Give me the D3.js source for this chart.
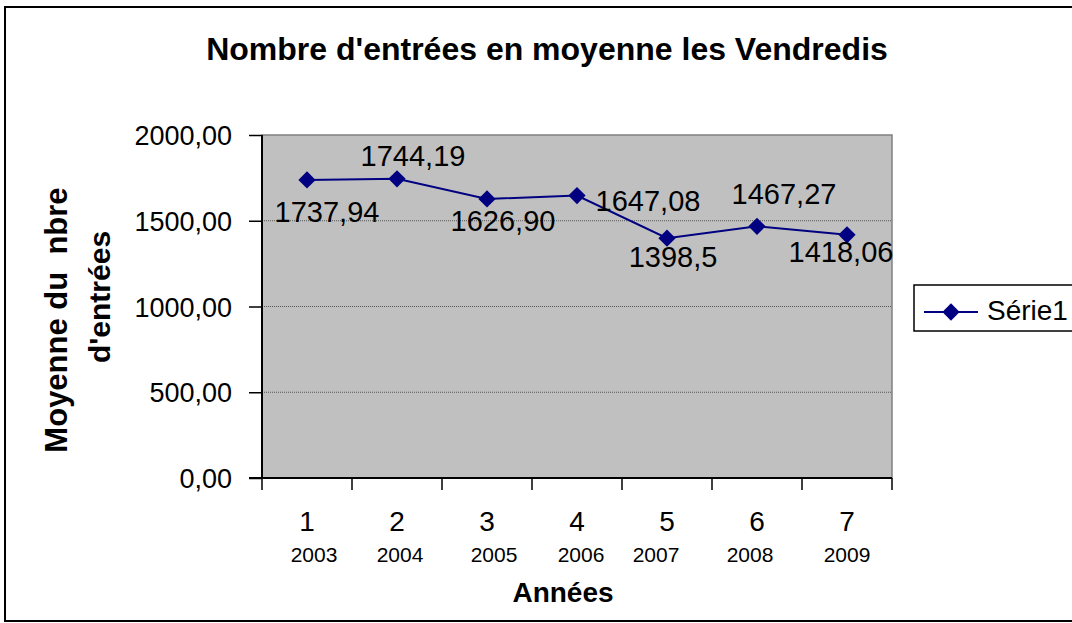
<!DOCTYPE html>
<html>
<head>
<meta charset="utf-8">
<script src="https://cdn.jsdelivr.net/npm/d3@7"></script>
<style>
  body { margin: 0; background: #fff; }
  text { font-family: "Liberation Sans", Arial, sans-serif; fill: #000; }
</style>
</head>
<body>
<svg id="chart" width="1072" height="623"></svg>
<script>
// data
var categories = ["1", "2", "3", "4", "5", "6", "7"];
var years = ["2003", "2004", "2005", "2006", "2007", "2008", "2009"];
var values = [1737.94, 1744.19, 1626.90, 1647.08, 1398.5, 1467.27, 1418.06];
var valueLabels = ["1737,94", "1744,19", "1626,90", "1647,08", "1398,5", "1467,27", "1418,06"];
var yTicks = [0, 500, 1000, 1500, 2000];
var seriesName = "Série1";

// where the labels sit (moved by hand in the original)
var labelOffsets = [[20, 32], [16, -23], [16, 22], [71, 5], [6, 18], [27, -33], [-6, 17]];
var yearOffsets = [7, 3, 7, 4, -11, -7, 0];

var svg = d3.select("#chart");
var pLeft = 262, pRight = 892, pTop = 135, pBottom = 478;

// outer frame
svg.append("rect")
    .attr("x", 5).attr("y", 7)
    .attr("width", 1080).attr("height", 614)
    .attr("fill", "#fff").attr("stroke", "#000").attr("stroke-width", 2);

var x = d3.scaleBand().domain(categories).range([pLeft, pRight]);
var y = d3.scaleLinear().domain([0, 2000]).range([pBottom, pTop]);
var cx = function(i){ return x(categories[i]) + x.bandwidth() / 2; };

// plot area
svg.append("rect")
    .attr("x", pLeft).attr("y", pTop)
    .attr("width", pRight - pLeft).attr("height", pBottom - pTop)
    .attr("fill", "#c0c0c0").attr("stroke", "#808080").attr("stroke-width", 1.5);

// grid
svg.selectAll(".grid").data(yTicks.filter(function(d){ return d > 0 && d < 2000; }))
  .enter().append("line")
    .attr("x1", pLeft).attr("x2", pRight)
    .attr("y1", function(d){ return y(d); }).attr("y2", function(d){ return y(d); })
    .attr("stroke", "#555").attr("stroke-width", 1).attr("stroke-dasharray", "1,1");

// y axis
var yAxis = d3.axisLeft(y).tickValues(yTicks).tickSize(13).tickPadding(17)
    .tickFormat(function(d){ return d3.format(".2f")(d).replace(".", ","); });
var gy = svg.append("g").attr("transform", "translate(" + pLeft + ",0)").call(yAxis);
gy.select(".domain").attr("stroke", "#000").attr("stroke-width", 2).attr("d", "M0," + pTop + "V" + pBottom);
gy.selectAll(".tick line").attr("stroke", "#000").attr("stroke-width", 1.5);
gy.selectAll(".tick text").attr("font-size", 27).attr("fill", "#000")
    .attr("font-family", "Liberation Sans, Arial, sans-serif").attr("dy", "0.36em");

// x axis
svg.append("line")
    .attr("x1", pLeft - 13).attr("x2", pRight)
    .attr("y1", pBottom).attr("y2", pBottom)
    .attr("stroke", "#000").attr("stroke-width", 2);
var bounds = categories.map(function(c){ return x(c); }).concat([pRight]);
svg.selectAll(".xtick").data(bounds).enter().append("line")
    .attr("x1", function(d){ return d; }).attr("x2", function(d){ return d; })
    .attr("y1", pBottom).attr("y2", pBottom + 12)
    .attr("stroke", "#000").attr("stroke-width", 1.5);
svg.selectAll(".xlab").data(categories).enter().append("text")
    .attr("x", function(d, i){ return cx(i); })
    .attr("y", 531).attr("text-anchor", "middle")
    .attr("font-size", 28).text(function(d){ return d; });
svg.selectAll(".yearlab").data(years).enter().append("text")
    .attr("x", function(d, i){ return cx(i) + yearOffsets[i]; })
    .attr("y", 562).attr("text-anchor", "middle")
    .attr("font-size", 21).text(function(d){ return d; });

// line + markers
var line = d3.line()
    .x(function(d, i){ return cx(i); })
    .y(function(d){ return y(d); });
svg.append("path").datum(values)
    .attr("d", line).attr("fill", "none")
    .attr("stroke", "#000080").attr("stroke-width", 2);
var diamond = d3.symbol().type(d3.symbolDiamond2).size(190);
svg.selectAll(".pt").data(values).enter().append("path")
    .attr("d", diamond)
    .attr("transform", function(d, i){ return "translate(" + cx(i) + "," + y(d) + ")"; })
    .attr("fill", "#000080");

// value labels
svg.selectAll(".vlab").data(values).enter().append("text")
    .attr("x", function(d, i){ return cx(i) + labelOffsets[i][0]; })
    .attr("y", function(d, i){ return y(d) + labelOffsets[i][1]; })
    .attr("dy", "0.36em")
    .attr("text-anchor", "middle")
    .attr("font-size", 29)
    .text(function(d, i){ return valueLabels[i]; });

// title
svg.append("text").attr("x", 547).attr("y", 60)
    .attr("text-anchor", "middle").attr("font-size", 32).attr("font-weight", "bold")
    .text("Nombre d'entrées en moyenne les Vendredis");

// axis titles
svg.append("text").attr("transform", "translate(67,320) rotate(-90)")
    .attr("text-anchor", "middle").attr("font-size", 31).attr("font-weight", "bold")
    .style("white-space", "pre")
    .text("Moyenne du  nbre");
svg.append("text").attr("transform", "translate(110,297) rotate(-90)")
    .attr("text-anchor", "middle").attr("font-size", 30).attr("font-weight", "bold")
    .text("d'entrées");

svg.append("text").attr("x", 563).attr("y", 602)
    .attr("text-anchor", "middle").attr("font-size", 28).attr("font-weight", "bold")
    .text("Années");

// legend
var lg = svg.append("g");
lg.append("rect").attr("x", 914).attr("y", 285).attr("width", 180).attr("height", 46)
    .attr("fill", "#fff").attr("stroke", "#000").attr("stroke-width", 1.5);
lg.append("line").attr("x1", 924).attr("x2", 978).attr("y1", 312).attr("y2", 312)
    .attr("stroke", "#000080").attr("stroke-width", 2);
lg.append("path").attr("d", diamond).attr("transform", "translate(951,312)").attr("fill", "#000080");
lg.append("text").attr("x", 987).attr("y", 320).attr("font-size", 28).text(seriesName);
</script>
</body>
</html>
